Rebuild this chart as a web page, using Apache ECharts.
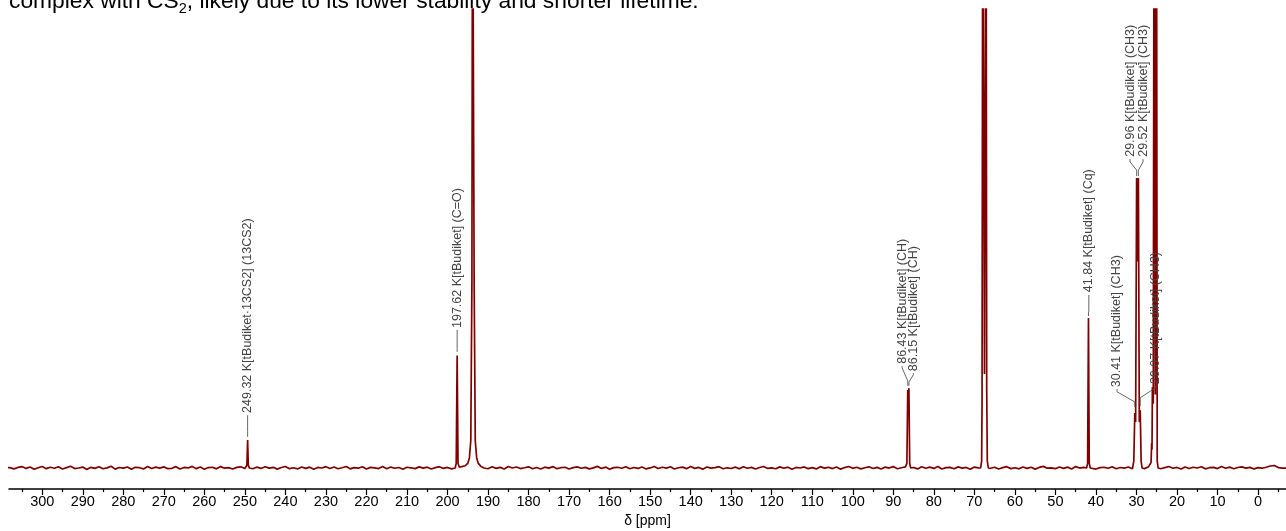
<!DOCTYPE html>
<html><head><meta charset="utf-8">
<script src="https://cdn.jsdelivr.net/npm/echarts@6/dist/echarts.min.js"></script>
<style>html,body{margin:0;padding:0;background:#fff}#c{width:1286px;height:531px}</style>
</head><body><div id="c"></div>
<script>
// ---- axis ticks ----
const tickLabels = [0,10,20,30,40,50,60,70,80,90,100,110,120,130,140,150,160,170,180,190,200,210,220,230,240,250,260,270,280,290,300];
const minorTicks = [-5,5,15,25,35,45,55,65,75,85,95,105,115,125,135,145,155,165,175,185,195,205,215,225,235,245,255,265,275,285,295,305];

// ---- baseline noise, one value per ppm from 308 down to -6 (read approx., x0.01) ----
const baselineStartPpm = 308;
const baselineNoise = [
 5,-12,8,20,-6,14,-18,3,22,-9,11,-3,17,-14,6,25,-8,0,13,-20,
 9,-5,18,-11,2,24,-16,7,-2,15,-19,10,4,-13,21,-7,12,-1,16,-10,
 -4,19,-15,8,1,23,-9,14,-17,6,11,-12,20,-3,5,-14,9,17,-8,2,
 -11,13,-6,18,-2,10,-16,7,21,-9,3,-13,15,-5,12,-18,8,0,19,-7,
 14,-10,4,22,-12,6,-3,17,-15,9,1,-8,20,-11,13,-4,7,-17,11,3,
 -9,16,-2,12,-14,5,19,-6,8,-12,24,-1,10,-16,6,15,-7,2,-11,18,
 -5,9,-13,21,0,14,-8,3,17,-10,7,-15,12,-2,20,-9,4,11,-14,6,
 16,-4,9,-12,2,23,-7,13,-18,5,10,-3,18,-11,7,-6,15,-13,1,22,
 -8,11,-2,17,-14,4,12,-9,20,-5,8,-16,14,-1,6,19,-10,3,-7,13,
 -12,18,-3,9,-15,7,21,-6,2,-11,16,-4,12,-17,8,0,15,-9,5,-13,
 19,-2,10,-8,14,-16,6,22,-5,11,-12,3,17,-7,9,-14,13,-1,20,-10,
 4,15,-9,7,-13,18,-3,12,-6,21,-15,5,9,-11,16,-2,8,-18,13,1,
 -7,17,-4,10,-14,6,19,-9,3,-12,15,-5,11,-16,8,23,-3,2,-10,14,
 -6,12,-13,20,-1,9,-8,16,-15,5,11,-4,18,-10,7,-2,14,-12,3,10,
 -9,19,-5,13,-11,6,22,-3,8,-14,15,-7,11,0,17,-12,4,9,-8,21,
 -4,12,-10,7,16,-2,9,-13,5,-3,10,28,35,6,-3
];

// ---- peak traces [ppm, intensity] (intensity: 100 = top of plot) ----
const peak249 = [[249.75,0],[249.5,0.6],[249.32,6.1],[249.15,0.6],[248.9,0]];
const peak197 = [[198.1,0],[197.85,1.0],[197.62,24.5],[197.4,1.0],[197.1,0.2],[196.5,0.3],[195.6,0.5],[195.0,1.0],[194.6,2.2],[194.25,6],[193.98,40],[193.82,140],[193.58,140],[193.42,40],[193.15,6],[192.8,2.2],[192.4,1.0],[191.8,0.4],[191.0,0]];
const peak86  = [[86.9,0],[86.65,1.0],[86.43,17.0],[86.3,14.5],[86.15,17.4],[85.95,1.0],[85.7,0]];
const peak67  = [[68.45,0],[68.2,1.5],[68.1,14],[67.93,140],[67.5,20.5],[67.1,140],[66.95,17],[66.8,1.5],[66.55,0]];
const peak41  = [[42.3,0],[42.05,1],[41.84,32.7],[41.65,1],[41.4,0]];
const peak30  = [[30.9,0],[30.65,1.5],[30.41,12.0],[30.2,10],[29.96,63.2],[29.75,45],[29.52,63.2],[29.3,10],[29.07,12.6],[28.85,1.5],[28.6,0]];
const peak25  = [[26.6,0],[26.4,1.2],[26.25,5.4],[26.16,4],[26.07,17.6],[25.85,14],[25.65,140],[25.35,16],[25.05,140],[24.88,1.5],[24.65,0]];
const peakGroups = [peak249, peak197, peak86, peak67, peak41, peak30, peak25];

// ---- peak annotations ----
const labelText = ['249.32 K[tBudiket·13CS2] (13CS2)','197.62 K[tBudiket] (C=O)','86.43 K[tBudiket] (CH)','86.15 K[tBudiket] (CH)','41.84 K[tBudiket] (Cq)','30.41 K[tBudiket] (CH3)','29.96 K[tBudiket] (CH3)','29.52 K[tBudiket] (CH3)','29.07 K[tBudiket] (CH3)'];
const labelPeak = [249.32,197.62,86.43,86.15,41.84,30.41,29.96,29.52,29.07];
const labelTextPpm = [249.32,197.62,87.84,85.05,41.75,34.79,31.58,28.37,25.41];
const leaderLow  = [6.8,25.3,17.9,17.9,33.1,13.3,63.6,63.6,13.5];
const leaderBend1 = [8.0,26.0,19.0,18.7,34.0,14.4,64.9,64.9,15.3];
const leaderBend2 = [8.0,26.0,21.8,20.3,34.0,16.6,66.7,66.7,17.4];
const leaderHigh = [11.5,30.1,22.2,20.7,37.7,17.2,67.3,67.3,17.9];
const textStart  = [12.0,30.5,22.7,21.1,38.3,17.6,67.8,67.8,18.3];

// ---- build trace ----
const ranges = peakGroups.map(g => [g[g.length-1][0], g[0][0]]);
let trace = [];
baselineNoise.forEach((v, i) => {
  const p = baselineStartPpm - i;
  if (!ranges.some(r => p >= r[0] && p <= r[1])) trace.push([p, v / 65]);
});
peakGroups.forEach(g => g.forEach(pt => trace.push(pt)));
trace.push([309, 0.05], [-7.5, 0.02]);
trace.sort((a, b) => b[0] - a[0]);

const chart = echarts.init(document.getElementById('c'), null, {renderer: 'canvas'});

// title fragment measurement
const cv = document.createElement('canvas').getContext('2d');
const FONT = '"Liberation Sans", Arial, Helvetica, sans-serif';
const TITLE_SIZE = 22.8, SUB_SIZE = 14.5;
const t1 = 'complex with CS', t2 = '2', t3 = ', likely due to its lower stability and shorter lifetime.';
cv.font = TITLE_SIZE + 'px ' + FONT; const w1 = cv.measureText(t1).width;
cv.font = SUB_SIZE + 'px ' + FONT; const w2 = cv.measureText(t2).width;

const option = {
  animation: false,
  backgroundColor: '#fff',
  grid: {left: 9, right: 0, top: 9, bottom: 42, outerBoundsMode: 'none', containLabel: false},
  xAxis: [{
    type: 'value', inverse: true, min: -6.9, max: 308.2,
    name: 'δ [ppm]', nameLocation: 'middle', nameGap: 18,
    nameTextStyle: {color: '#000', fontSize: 14, fontFamily: FONT},
    axisLine: {show: true, onZero: false, lineStyle: {color: '#000', width: 1.5}},
    axisTick: {show: true, length: 6, lineStyle: {color: '#000', width: 1.2}, customValues: tickLabels},
    axisLabel: {show: true, color: '#000', fontSize: 14.5, fontFamily: FONT, margin: 5, customValues: tickLabels},
    splitLine: {show: false}
  }, {
    type: 'value', inverse: true, min: -6.9, max: 308.2, position: 'bottom',
    axisLine: {show: false, onZero: false},
    axisTick: {show: true, length: 3, lineStyle: {color: '#000', width: 1.2}, customValues: minorTicks},
    axisLabel: {show: false},
    splitLine: {show: false}
  }],
  yAxis: {type: 'value', min: -4.575, max: 100, show: false, splitLine: {show: false}},
  series: [{
    type: 'line', data: trace, showSymbol: false, symbol: 'none', clip: true,
    lineStyle: {color: '#800000', width: 1.7}, z: 2, sampling: null
  }, {
    type: 'custom', z: 5, clip: false,
    data: labelPeak.map((p, i) => [p, leaderLow[i]]),
    renderItem: function (params, api) {
      const i = params.dataIndex;
      const a = api.coord([labelPeak[i], leaderLow[i]]);
      const b = api.coord([labelPeak[i], leaderBend1[i]]);
      const c = api.coord([labelTextPpm[i], leaderBend2[i]]);
      const d = api.coord([labelTextPpm[i], leaderHigh[i]]);
      const t = api.coord([labelTextPpm[i], textStart[i]]);
      return {type: 'group', children: [
        {type: 'polyline', shape: {points: [a, b, c, d]}, style: {stroke: '#555', lineWidth: 0.9, fill: null}},
        {type: 'text', x: t[0], y: t[1], rotation: Math.PI / 2,
         style: {text: labelText[i], fontSize: 12.5, fontFamily: FONT, fill: '#444', align: 'left', verticalAlign: 'middle'}}
      ]};
    }
  }],
  graphic: [
    {type: 'text', x: 9, y: 2, style: {text: t1, fontSize: TITLE_SIZE, fontFamily: FONT, fill: '#000', verticalAlign: 'middle'}},
    {type: 'text', x: 9 + w1, y: 9, style: {text: t2, fontSize: SUB_SIZE, fontFamily: FONT, fill: '#000', verticalAlign: 'middle'}},
    {type: 'text', x: 9 + w1 + w2, y: 2, style: {text: t3, fontSize: TITLE_SIZE, fontFamily: FONT, fill: '#000', verticalAlign: 'middle'}}
  ]
};
chart.setOption(option);
</script>
</body></html>
